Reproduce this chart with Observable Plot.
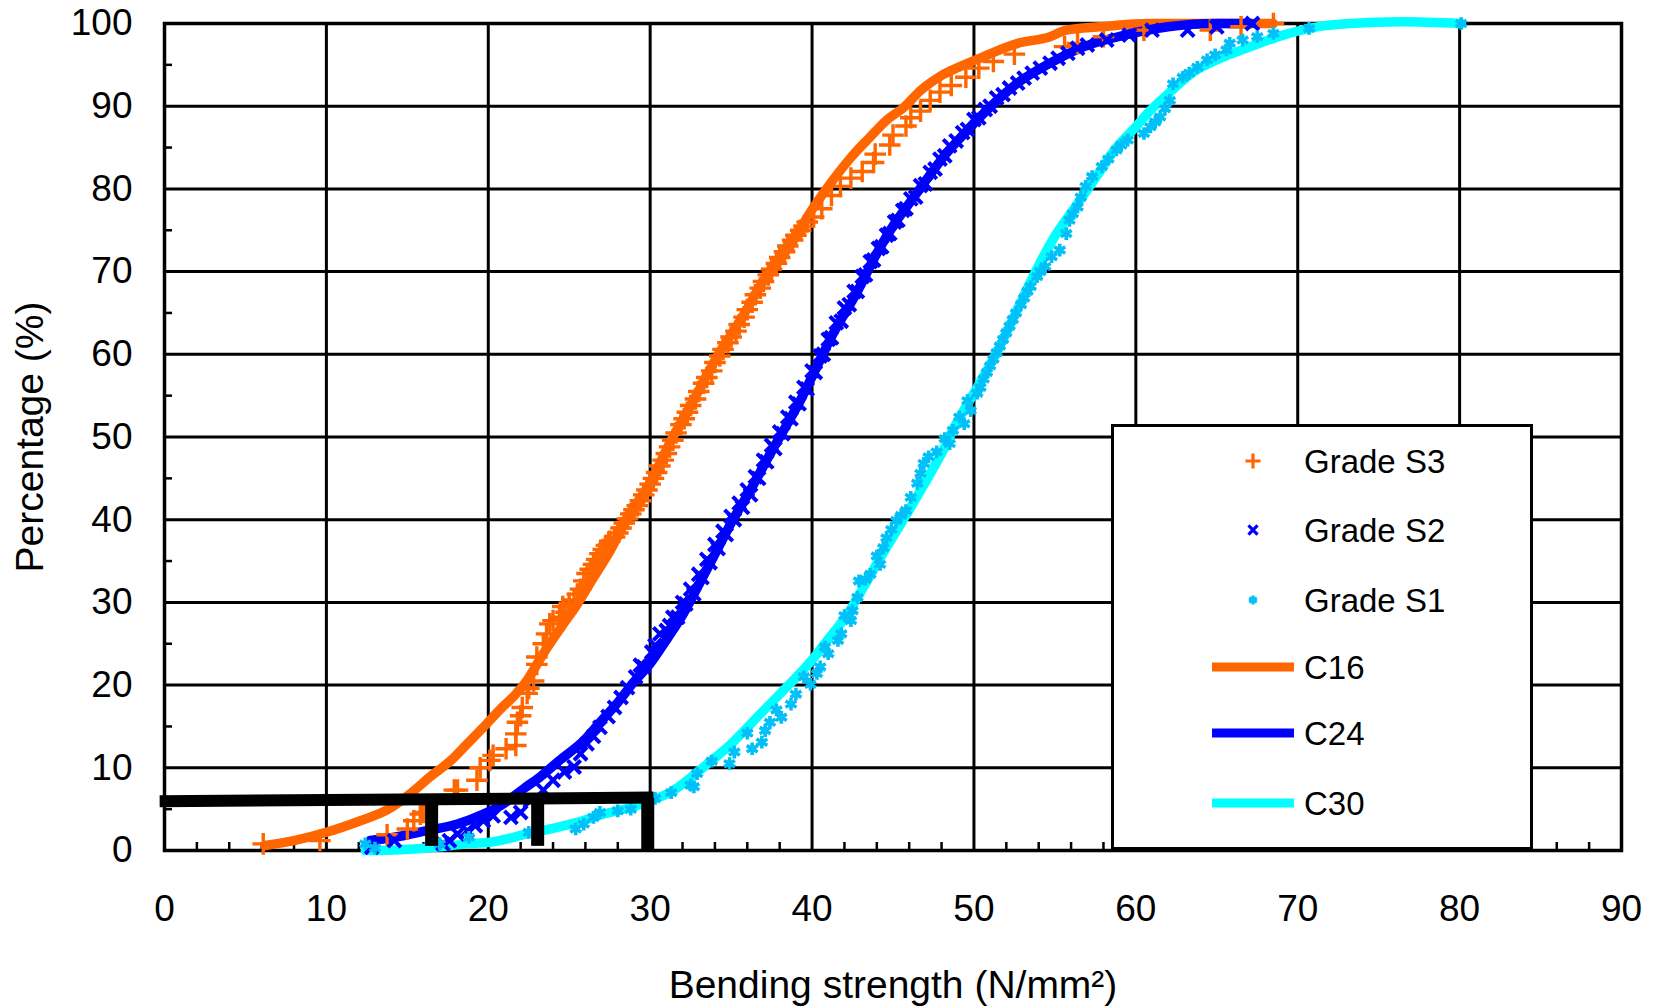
<!DOCTYPE html>
<html>
<head>
<meta charset="utf-8">
<script src="https://cdn.jsdelivr.net/npm/d3@7"></script>
<script src="https://cdn.jsdelivr.net/npm/@observablehq/plot@0.6"></script>
<style>
html,body{margin:0;padding:0;background:#fff;}
#wrap{position:relative;width:1657px;height:1008px;font-family:"Liberation Sans",Arial,sans-serif;}
#wrap svg{display:block;}
#legend{position:absolute;left:1111px;top:424px;width:416px;height:420px;border:3.5px solid #000;background:#fff;}
</style>
</head>
<body>
<div id="wrap"></div>
<script>
// ---- axes ----
const xTicks = [0, 10, 20, 30, 40, 50, 60, 70, 80, 90];
const yTicks = [0, 10, 20, 30, 40, 50, 60, 70, 80, 90, 100];
const xMinor = [2,4,6,8,12,14,16,18,22,24,26,28,32,34,36,38,42,44,46,48,52,54,56,58,62,64,66,68,72,74,76,78,82,84,86,88];
const yMinor = [5, 15, 25, 35, 45, 55, 65, 75, 85, 95];
const xTitle = "Bending strength (N/mm²)";
const yTitle = "Percentage (%)";

// ---- series names / colours ----
const seriesNames = ["Grade S3", "Grade S2", "Grade S1", "C16", "C24", "C30"];
const seriesColors = ["#FF6600", "#0000FF", "#00C0F8", "#FF6600", "#0000FF", "#00FFFF"];
const seriesSymbols = ["plus", "times", "asterisk", null, null, null];
const markerR = [7, 6, 6];
const markerW = [3.4, 4, 3.6];

// ---- fitted curves [strength, percentage] ----
const c16 = [[6.2,0.6],[8,1.2],[10,2.2],[12.1,3.6],[13.75,4.9],[15.2,6.9],[16.4,8.9],[17.7,10.9],[18.7,12.9],[19.7,14.9],[20.75,17.1],[21.6,18.7],[22.4,20.6],[23.4,23.8],[24.5,27.0],[25.5,29.8],[26.5,33.0],[27.6,36.5],[28.6,40.3],[30.0,44.5],[31.3,49.6],[32.5,53.8],[34.1,59.6],[35.6,64.2],[37.0,68.9],[38.7,73.4],[40.1,77.8],[41.3,81.1],[42.4,83.8],[43.6,86.3],[44.6,88.3],[45.7,89.9],[46.7,91.9],[47.9,93.6],[49.4,95.0],[50.6,96.0],[52.7,97.6],[54.7,98.4],[55.7,99.2],[57.8,99.6],[60.9,100],[64.0,100],[68.5,100]];
const c24 = [[12.7,1.2],[14.2,1.6],[16.2,2.4],[18.1,3.2],[19.7,4.4],[20.9,5.6],[22.2,7.5],[23.2,8.9],[24.4,10.9],[25.9,13.3],[26.9,15.5],[28.0,17.9],[29.0,20.4],[30.0,22.6],[31.05,25.6],[32.1,28.8],[33.1,32.5],[34.1,36.2],[35.0,39.6],[36.2,43.6],[37.2,47.2],[38.3,51.0],[39.3,54.5],[40.0,57.3],[41.3,62.5],[42.8,67.6],[44.0,72.2],[45.0,75.5],[46.1,78.5],[47.1,81.2],[48.3,84.3],[49.6,87.1],[51.0,89.9],[52.7,92.8],[54.7,95.2],[56.8,97.2],[58.9,98.4],[62.0,99.6],[65.0,100],[67.1,100]];
const c30 = [[12.4,0],[14.6,0.1],[16.8,0.4],[18.7,0.8],[20.1,1.0],[22.4,2.0],[23.8,2.6],[25.5,3.4],[27.1,4.4],[28.8,5.2],[30.0,6.0],[31.3,7.1],[32.3,8.5],[33.3,10.1],[34.9,12.7],[36.8,16.5],[38.4,19.7],[39.9,22.8],[41.1,25.8],[42.2,28.6],[43.2,31.9],[44.4,36.0],[45.7,40.2],[46.9,44.2],[48.1,48.4],[48.9,51.6],[50.0,55.3],[51.6,61.0],[52.7,65.5],[53.8,70.0],[55.1,74.6],[56.4,78.2],[57.6,81.6],[58.8,85.0],[59.9,87.3],[60.9,89.5],[62.0,91.5],[63.6,94.2],[65.0,95.6],[67.1,97.2],[69.1,98.6],[71.2,99.6],[73.2,100],[76.4,100.2],[80.1,100]];

// ---- test results [strength, percentage] ----
const s3 = [[6.1,0.8],[9.6,1.2],[13.75,1.9],[15.0,2.6],[15.4,3.6],[15.8,4.4],[16.0,4.6],[17.9,7.3],[18.1,7.3],[19.3,8.5],[19.5,10.0],[20.1,10.9],[20.3,11.5],[21.1,12.3],[21.7,12.7],[21.7,14.1],[21.8,15.5],[22.0,16.3],[22.1,17.3],[22.4,19.0],[22.5,19.6],[22.8,20.5],[23.0,22.5],[23.0,23.4],[23.4,25.0],[23.6,26.2],[23.8,27.4],[24.0,27.8],[24.4,28.2],[24.6,29.5],[24.8,28.8],[25.0,29.9],[25.3,30.3],[25.5,31.0],[25.7,31.6],[25.9,32.6],[26.1,33.5],[26.3,34.0],[26.5,34.6],[26.7,35.2],[26.9,35.9],[27.1,36.4],[27.3,36.9],[27.5,37.4],[27.8,37.9],[28.0,38.4],[28.2,39.0],[28.4,39.6],[28.6,40.1],[28.8,40.7],[29.0,41.2],[29.2,41.7],[29.4,42.3],[29.6,43.0],[29.8,43.6],[30.0,44.3],[30.2,45.0],[30.4,45.7],[30.6,46.5],[30.8,47.2],[31.0,48.0],[31.2,48.8],[31.4,49.6],[31.6,50.5],[31.9,51.5],[32.1,52.2],[32.3,53.0],[32.5,53.8],[32.8,54.6],[33.0,55.5],[33.3,56.5],[33.5,57.2],[33.8,58.0],[34.0,59.0],[34.3,59.8],[34.5,60.6],[34.8,61.4],[35.0,62.1],[35.3,62.8],[35.5,63.6],[35.8,64.5],[36.0,65.4],[36.3,66.3],[36.5,67.2],[36.8,68.0],[37.0,68.8],[37.3,69.6],[37.5,70.3],[37.8,71.0],[38.0,71.7],[38.3,72.4],[38.5,73.1],[38.8,73.8],[39.0,74.4],[39.3,75.0],[39.5,75.5],[39.7,76.0],[40.1,76.6],[40.6,77.6],[41.2,79.2],[41.75,80.3],[42.4,81.3],[43.1,82.1],[43.8,83.2],[43.9,84.2],[44.8,85.3],[45.0,86.5],[45.8,87.6],[46.1,88.6],[46.7,89.4],[47.3,90.7],[47.9,91.7],[48.6,92.5],[49.5,93.5],[50.3,94.6],[51.2,95.4],[52.5,96.3],[55.6,97.2],[56.4,97.6],[58.0,98.4],[60.5,99.2],[64.6,99.2],[66.5,99.6],[68.5,100]];
const s2 = [[12.8,0.4],[14.2,1.2],[17.2,0.8],[17.6,1.2],[18.1,2.0],[18.7,2.4],[19.2,3.0],[19.7,3.6],[20.3,4.2],[21.4,4.0],[22.0,4.6],[22.6,6.0],[23.4,7.3],[24.0,8.5],[24.7,9.5],[25.3,10.1],[25.7,11.7],[26.1,12.9],[26.5,13.8],[26.9,14.9],[27.4,16.2],[27.8,17.3],[28.2,18.5],[28.6,19.7],[29.1,21.0],[29.4,22.4],[29.6,22.2],[30.1,24.0],[30.3,24.8],[30.6,26.2],[31.0,26.6],[31.2,27.2],[31.4,28.2],[31.7,28.2],[32.0,30.0],[32.2,29.8],[32.5,31.6],[32.7,31.0],[33.0,33.4],[33.2,33.0],[33.5,35.2],[33.7,34.8],[34.0,37.0],[34.2,36.5],[34.5,38.6],[34.7,38.2],[35.0,40.4],[35.2,40.0],[35.5,42.0],[35.7,41.5],[36.0,43.6],[36.2,43.0],[36.5,45.2],[36.7,45.0],[37.0,47.2],[37.2,47.0],[37.5,49.0],[37.7,48.6],[38.0,50.6],[38.2,50.4],[38.5,52.4],[38.7,52.2],[39.0,54.2],[39.2,54.0],[39.5,56.0],[39.7,55.8],[40.0,58.0],[40.2,57.8],[40.5,59.8],[40.7,60.0],[41.0,61.8],[41.2,62.0],[41.5,63.8],[41.8,64.0],[42.0,65.6],[42.3,66.0],[42.6,67.6],[42.8,67.6],[43.1,69.4],[43.3,69.6],[43.6,71.2],[43.8,71.4],[44.1,72.8],[44.3,73.0],[44.6,74.4],[44.8,74.6],[45.1,76.0],[45.3,76.2],[45.6,77.4],[45.8,77.6],[46.1,78.8],[46.4,79.0],[46.7,80.4],[47.0,80.6],[47.3,82.0],[47.6,82.4],[47.9,83.6],[48.2,84.0],[48.5,85.2],[48.9,85.8],[49.3,86.8],[49.6,87.2],[50.0,88.4],[50.3,88.6],[50.7,89.6],[51.0,90.0],[51.4,91.0],[51.8,91.4],[52.2,92.2],[52.7,92.8],[53.1,93.4],[53.6,94.0],[54.1,94.6],[54.7,95.2],[55.2,95.8],[55.8,96.4],[56.4,97.0],[57.0,97.4],[58.2,98.0],[59.6,98.6],[61.0,99.2],[63.2,99.2],[65.0,99.6],[67.2,100]];
const s1 = [[12.4,0.8],[13.0,0.3],[17.0,0.8],[18.8,1.6],[22.5,2.2],[25.4,2.6],[25.9,3.2],[26.5,4.0],[26.9,4.6],[28.0,4.8],[28.8,5.0],[30.3,6.3],[31.3,7.0],[32.5,7.9],[32.7,7.7],[32.9,9.3],[33.8,10.8],[34.9,10.5],[35.2,11.9],[36.0,14.2],[36.3,12.3],[36.9,13.1],[37.1,14.5],[37.4,15.5],[37.8,17.0],[38.1,16.1],[38.7,17.7],[39.0,18.9],[39.5,21.0],[39.9,20.1],[40.3,21.4],[40.5,22.2],[40.8,24.6],[41.0,23.8],[41.6,25.4],[41.8,26.2],[42.0,28.4],[42.4,27.8],[42.5,29.0],[42.8,30.6],[42.9,32.6],[43.3,32.8],[43.6,33.4],[44.0,35.6],[44.2,34.6],[44.4,36.6],[44.6,37.8],[44.9,38.8],[45.2,39.9],[45.5,40.5],[45.8,41.1],[46.1,42.7],[46.5,44.4],[46.7,45.6],[46.9,46.8],[47.2,47.6],[47.7,48.2],[48.2,49.8],[48.5,49.2],[48.7,50.8],[49.1,52.4],[49.4,51.6],[49.6,54.4],[49.8,53.2],[50.2,55.3],[50.4,56.0],[50.6,57.0],[50.8,57.8],[51.0,58.6],[51.2,59.4],[51.4,60.2],[51.6,61.0],[51.8,61.8],[52.0,62.6],[52.2,63.4],[52.4,64.2],[52.6,65.0],[52.9,66.0],[53.1,66.8],[53.3,67.6],[53.5,68.2],[53.9,69.4],[54.1,70.0],[54.4,70.6],[54.8,71.8],[55.3,72.6],[55.7,74.6],[55.9,76.2],[56.1,77.0],[56.4,77.8],[56.6,79.0],[56.9,80.3],[57.3,81.5],[57.9,82.7],[58.3,83.6],[58.8,84.7],[59.1,85.3],[59.5,85.9],[60.5,86.7],[60.9,87.5],[61.2,88.1],[61.5,88.7],[61.8,89.7],[62.1,90.7],[62.3,92.7],[62.9,93.5],[63.3,94.0],[63.8,94.7],[64.4,95.6],[64.9,96.2],[65.6,96.8],[65.8,97.6],[66.6,98.0],[67.5,98.4],[68.5,98.8],[70.7,99.4],[80.1,100]];

// ---- characteristic-value markers ----
const thresholdLine = [{x1: -0.3, y1: 5.95, x2: 30.2, y2: 6.4}];
const thresholdBars = [{x: 16.5, y1: 6.1, y2: 0.5}, {x: 23.05, y1: 6.2, y2: 0.5}, {x: 29.85, y1: 6.3, y2: 0}];

const FONT = "Liberation Sans, Arial, sans-serif";
const curves = [c16, c24, c30];
const grades = [s3, s2, s1];

const chart = Plot.plot({
  width: 1657,
  height: 1008,
  marginLeft: 164,
  marginRight: 36,
  marginTop: 23,
  marginBottom: 158,
  x: {domain: [0, 90]},
  y: {domain: [0, 100]},
  style: {fontFamily: FONT, fontSize: "37px", background: "transparent", overflow: "visible", color: "#000"},
  marks: [
    Plot.ruleX(xTicks.slice(1, -1), {stroke: "#000", strokeWidth: 3}),
    Plot.ruleY(yTicks.slice(1, -1), {stroke: "#000", strokeWidth: 3}),
    Plot.ruleX(xMinor, {y1: 0, y2: 0, insetBottom: 8, stroke: "#000", strokeWidth: 2.5}),
    Plot.ruleY(yMinor, {x1: 0, x2: 0, insetRight: -8, stroke: "#000", strokeWidth: 2.5}),
    Plot.frame({stroke: "#000", strokeWidth: 3.5}),
    Plot.axisX({ticks: xTicks, tickSize: 0, tickPadding: 44, fontSize: 37, label: null, tickFormat: d => String(d)}),
    Plot.axisY({ticks: yTicks, tickSize: 0, tickPadding: 32, fontSize: 37, label: null, tickFormat: d => String(d)}),
    Plot.text([xTitle], {frameAnchor: "bottom", lineAnchor: "middle", textAnchor: "middle", dy: 135, fontSize: 39, fill: "#000"}),
    Plot.text([yTitle], {frameAnchor: "left", lineAnchor: "middle", textAnchor: "middle", dx: -134, rotate: -90, fontSize: 39, fill: "#000"}),
    ...curves.map((c, i) => Plot.line(c, {x: d => d[0], y: d => d[1], stroke: seriesColors[i + 3], strokeWidth: 9.5, curve: "monotone-x", strokeLinejoin: "round"})),
    ...grades.map((g, i) => Plot.dot(g, {x: d => d[0], y: d => d[1], symbol: seriesSymbols[i], stroke: seriesColors[i], strokeWidth: markerW[i], r: markerR[i]})),
    Plot.link(thresholdLine, {x1: "x1", y1: "y1", x2: "x2", y2: "y2", stroke: "#000", strokeWidth: 12}),
    Plot.ruleX(thresholdBars, {x: "x", y1: "y1", y2: "y2", stroke: "#000", strokeWidth: 13})
  ]
});

const wrap = document.getElementById("wrap");
wrap.appendChild(chart);

// ---- legend (inside the plot, lower right) ----
const legend = document.createElement("div");
legend.id = "legend";
const rowY = [34, 103, 173, 240, 306, 376];
const symMap = {plus: d3.symbolPlus, times: d3.symbolTimes, asterisk: d3.symbolAsterisk};
const ls = d3.create("svg").attr("width", 416).attr("height", 420).style("position", "absolute").style("left", 0).style("top", 0);
seriesNames.forEach((name, i) => {
  const y = rowY[i];
  if (seriesSymbols[i]) {
    const r = markerR[i] * 0.7;
    ls.append("path")
      .attr("d", d3.symbol(symMap[seriesSymbols[i]], Math.PI * r * r)())
      .attr("transform", `translate(139,${y})`)
      .attr("fill", "none").attr("stroke", seriesColors[i]).attr("stroke-width", 3.2);
  } else {
    ls.append("line").attr("x1", 98).attr("x2", 180).attr("y1", y).attr("y2", y)
      .attr("stroke", seriesColors[i]).attr("stroke-width", 9);
  }
  ls.append("text").attr("x", 190).attr("y", y).attr("dy", "0.35em")
    .attr("font-family", FONT).attr("font-size", 33).attr("fill", "#000").text(name);
});
legend.appendChild(ls.node());
wrap.appendChild(legend);
</script>
</body>
</html>
